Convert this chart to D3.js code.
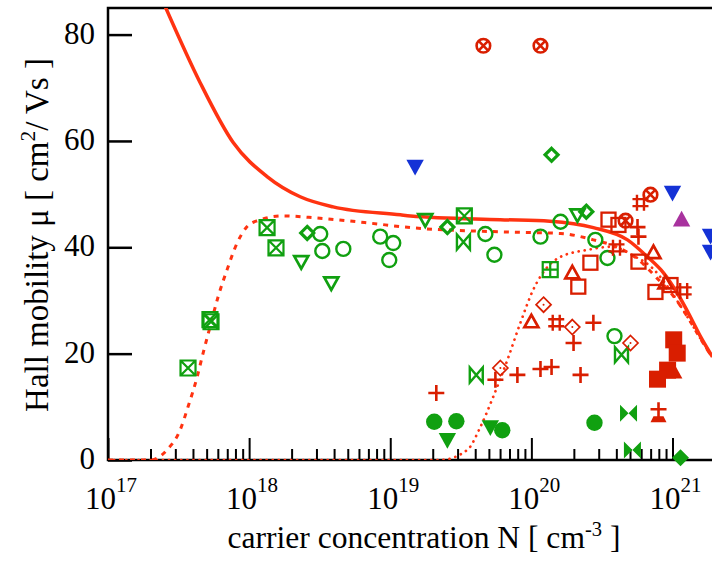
<!DOCTYPE html>
<html>
<head>
<meta charset="utf-8">
<script src="https://cdn.jsdelivr.net/npm/d3@7"></script>
<style>
  html, body { margin: 0; padding: 0; background: #fff; }
  svg text { font-family: "Liberation Serif", "Times New Roman", serif; fill: #000; }
</style>
</head>
<body>
<div id="chart"></div>
<script>
// axis ticks
const yTicks = [0, 20, 40, 60, 80];
const xDecades = [1e17, 1e18, 1e19, 1e20, 1e21];
const xDecadeExp = ['17', '18', '19', '20', '21'];

// model curves
const solidN = [2.54e17, 4.49e17, 7.71e17, 1.34e18, 2.30e18, 3.94e18, 1.18e19, 1.39e19, 6.03e19, 1.35e20, 2.75e20, 4.80e20, 6.65e20, 8.63e20, 1.08e21, 1.34e21, 1.58e21, 1.92e21];
const solidMu = [85.3, 71.0, 59.7, 53.3, 49.5, 47.6, 46.1, 45.9, 45.2, 44.9, 43.7, 41.4, 38.2, 35.2, 31.4, 26.9, 23.2, 19.4];

const dashN = [1e17, 2.0e17, 2.62e17, 3.24e17, 3.69e17, 4.28e17, 4.72e17, 5.28e17, 6.03e17, 6.98e17, 8.22e17, 9.68e17, 1.14e18, 1.74e18, 3.03e18, 6.87e18, 1.39e19, 6.03e19, 1.61e20, 2.75e20, 4.01e20, 5.65e20, 7.76e20, 1.03e21, 1.30e21, 1.58e21, 1.92e21];
const dashMu = [0, 0, 1.9, 5.6, 10.0, 15.6, 20.1, 25.0, 30.7, 35.8, 40.8, 43.9, 45.0, 45.9, 45.5, 44.6, 43.7, 42.9, 42.6, 41.4, 40.1, 37.8, 34.2, 30.6, 26.6, 22.8, 19.2];

const dotN = [1e17, 2.26e19, 3.52e19, 4.35e19, 5.37e19, 6.76e19, 8.36e19, 1.03e20, 1.30e20, 1.61e20, 2.49e20, 3.65e20, 5.47e20, 7.07e20, 8.91e20, 1.10e21, 1.34e21, 1.58e21, 1.92e21];
const dotMu = [0, 0, 1.9, 6.2, 11.9, 18.8, 25.8, 32.0, 36.3, 38.2, 39.5, 40.1, 38.2, 36.3, 33.2, 29.6, 26.0, 22.8, 19.2];

// measured points, one pair of arrays per marker kind
const gBoxXN = [3.69e17, 5.28e17, 5.37e17, 1.34e18, 1.55e18, 3.35e19];
const gBoxXMu = [17.3, 26.4, 26.0, 43.7, 39.9, 45.9];
const gDiamondN = [2.58e18, 2.54e19, 1.39e20, 2.45e20];
const gDiamondMu = [42.7, 43.8, 57.4, 46.7];
const gCircleN = [3.19e18, 3.30e18, 4.65e18, 8.49e18, 1.05e19, 9.84e18, 4.72e19, 5.47e19, 1.16e20, 1.61e20, 2.84e20, 3.46e20, 3.88e20];
const gCircleMu = [42.5, 39.3, 39.7, 42.0, 40.8, 37.6, 42.5, 38.6, 42.0, 44.8, 41.4, 38.0, 23.3];
const gTriDownN = [2.34e18, 3.82e18, 1.77e19, 2.12e20];
const gTriDownMu = [37.3, 33.3, 45.2, 46.1];
const gBowtieN = [3.30e19, 4.07e19, 4.35e20];
const gBowtieMu = [41.0, 16.0, 19.8];
const gBowtieFillN = [4.88e20, 5.20e20];
const gBowtieFillMu = [8.8, 1.9];
const gCircleFillN = [2.05e19, 2.94e19, 6.22e19, 2.80e20];
const gCircleFillMu = [7.2, 7.3, 5.6, 7.0];
const gTriDownFillN = [2.54e19, 5.12e19];
const gTriDownFillMu = [3.8, 6.2];
const gDiamondFillN = [1.14e21];
const gDiamondFillMu = [0.4];
const gBoxPlusN = [1.36e20];
const gBoxPlusMu = [35.8];

const rCircleXN = [4.57e19, 1.16e20, 4.65e20, 6.98e20];
const rCircleXMu = [77.9, 77.9, 45.0, 49.9];
const rSquareN = [3.52e20, 4.14e20, 2.62e20, 2.15e20, 5.74e20, 7.57e20, 9.68e20];
const rSquareMu = [45.2, 44.2, 37.1, 32.6, 37.3, 31.6, 32.9];
const rTriUpN = [1.0e20, 1.95e20, 7.33e20, 8.91e20];
const rTriUpMu = [26.0, 35.2, 39.0, 33.3];
const rPlusN = [2.12e19, 5.56e19, 7.96e19, 1.16e20, 1.39e20, 2.23e20, 1.99e20, 2.75e20, 5.65e20, 5.74e20];
const rPlusMu = [12.6, 15.1, 16.0, 17.1, 17.5, 16.0, 22.0, 25.8, 43.8, 42.0];
const rHashN = [1.50e20, 4.01e20, 1.20e21, 5.93e20];
const rHashMu = [25.8, 39.9, 31.8, 48.4];
const rDiamondDotN = [1.22e20, 1.95e20, 6.03e19, 5.04e20];
const rDiamondDotMu = [29.2, 25.0, 17.3, 22.0];
const rSquareFillN = [1.02e21, 1.08e21, 9.23e20, 7.83e20];
const rSquareFillMu = [22.6, 20.1, 16.9, 15.2];
const rTriUpFillN = [1.02e21];
const rTriUpFillMu = [16.6];
const rPlusBarN = [7.96e20];
const rPlusBarMu = [8.8];

const bTriDownFillN = [1.50e19, 1.0e21, 1.86e21, 1.86e21];
const bTriDownFillMu = [55.2, 50.3, 42.2, 39.2];
const pTriUpFillN = [1.16e21];
const pTriUpFillMu = [45.2];

const green = '#10a010';
const red = '#d91e00';
const curveRed = '#ff3311';
const blue = '#1432d6';
const purple = '#a8329e';

const W = 712, H = 563;
const pLeft = 108, pRight = 712, pTop = 8, pBottom = 460;

const svg = d3.select('#chart').append('svg')
    .attr('width', W)
    .attr('height', H);

const x = d3.scaleLog().domain([1e17, 1.905e21]).range([pLeft, pRight]);
const y = d3.scaleLinear().domain([0, 85]).range([pBottom, pTop]);

svg.append('defs').append('clipPath').attr('id', 'plotClip')
    .append('rect')
    .attr('x', pLeft).attr('y', pTop)
    .attr('width', pRight - pLeft).attr('height', pBottom - pTop);

// minor ticks 2..9 in each decade
const minorTicks = [];
xDecades.forEach(d => {
    for (let k = 2; k <= 9; k++) {
        if (d * k < 1.905e21) minorTicks.push(d * k);
    }
});

svg.append('g')
    .attr('transform', `translate(0,${pBottom})`)
    .call(d3.axisBottom(x).tickValues(minorTicks).tickSize(-11).tickFormat(''))
    .call(g => g.select('.domain').remove())
    .call(g => g.selectAll('line').attr('stroke', '#000').attr('stroke-width', 2));

svg.append('g')
    .attr('transform', `translate(0,${pBottom})`)
    .call(d3.axisBottom(x).tickValues(xDecades).tickSize(-22).tickFormat(''))
    .call(g => g.select('.domain').remove())
    .call(g => g.selectAll('line').attr('stroke', '#000').attr('stroke-width', 2));

svg.append('g')
    .attr('transform', `translate(${pLeft},0)`)
    .call(d3.axisLeft(y).tickValues(yTicks).tickSize(-24).tickPadding(13).tickFormat(d3.format('d')))
    .call(g => g.select('.domain').remove())
    .call(g => g.selectAll('line').attr('stroke', '#000').attr('stroke-width', 2.5))
    .call(g => g.selectAll('text')
        .attr('font-size', 31)
        .attr('dy', '0.28em')
        .attr('fill', '#000'));

// frame: left, top, bottom (right side runs off the page)
svg.append('path')
    .attr('d', `M${pRight},${pTop}H${pLeft}V${pBottom}H${pRight}`)
    .attr('fill', 'none')
    .attr('stroke', '#000')
    .attr('stroke-width', 2.5);

// decade labels 10^n
const xLab = svg.append('g');
xDecades.forEach((d, i) => {
    const t = xLab.append('text')
        .attr('x', x(d) + 3)
        .attr('y', 509)
        .attr('text-anchor', 'middle')
        .attr('font-size', 31);
    t.append('tspan').text('10');
    t.append('tspan').attr('font-size', 21).attr('dy', -17).text(xDecadeExp[i]);
});

// axis titles, sized to the width they take in the picture
function fitText(sel, target) {
    const w = sel.node().getBBox().width;
    sel.attr('font-size', 30 * target / w);
}

const xt = svg.append('text')
    .attr('x', 424)
    .attr('y', 548)
    .attr('text-anchor', 'middle')
    .attr('font-size', 30);
xt.append('tspan').text('carrier concentration N [ cm');
xt.append('tspan').attr('font-size', '0.65em').attr('dy', '-0.6em').text('-3');
xt.append('tspan').attr('dy', '0.39em').text(' ]');
fitText(xt, 393);

const yt = svg.append('text')
    .attr('transform', 'translate(48,235) rotate(-90)')
    .attr('text-anchor', 'middle')
    .attr('font-size', 30);
yt.append('tspan').text('Hall mobility μ [ cm');
yt.append('tspan').attr('font-size', '0.65em').attr('dy', '-0.6em').text('2');
yt.append('tspan').attr('dy', '0.39em').text('/ Vs ]');
fitText(yt, 354);

// curves
const line = d3.line()
    .x(d => x(d[0]))
    .y(d => y(d[1]))
    .curve(d3.curveMonotoneX);

const plot = svg.append('g').attr('clip-path', 'url(#plotClip)');

plot.append('path')
    .attr('d', line(dotN.map((n, i) => [n, dotMu[i]])))
    .attr('fill', 'none')
    .attr('stroke', curveRed)
    .attr('stroke-width', 2.7)
    .attr('stroke-linecap', 'round')
    .attr('stroke-dasharray', '0.1 6');

plot.append('path')
    .attr('d', line(dashN.map((n, i) => [n, dashMu[i]])))
    .attr('fill', 'none')
    .attr('stroke', curveRed)
    .attr('stroke-width', 3)
    .attr('stroke-dasharray', '5 6');

plot.append('path')
    .attr('d', line(solidN.map((n, i) => [n, solidMu[i]])))
    .attr('fill', 'none')
    .attr('stroke', curveRed)
    .attr('stroke-width', 3.5);

// marker shapes, centred on 0,0
const shapes = {
    circle: (g, c) => g.append('circle').attr('r', 7).attr('fill', 'none').attr('stroke', c).attr('stroke-width', 2.4),
    circleFill: (g, c) => g.append('circle').attr('r', 8.2).attr('fill', c),
    circleX: (g, c) => {
        g.append('circle').attr('r', 6.8).attr('fill', 'none').attr('stroke', c).attr('stroke-width', 2.6);
        g.append('path').attr('d', 'M-4.3,-4.3L4.3,4.3M4.3,-4.3L-4.3,4.3').attr('stroke', c).attr('stroke-width', 2.6);
    },
    boxX: (g, c) => g.append('path').attr('d', 'M-7.5,-7.5H7.5V7.5H-7.5ZM-7.5,-7.5L7.5,7.5M7.5,-7.5L-7.5,7.5')
        .attr('fill', 'none').attr('stroke', c).attr('stroke-width', 2.2),
    boxPlus: (g, c) => g.append('path').attr('d', 'M-7.5,-7.5H7.5V7.5H-7.5ZM0,-7.5V7.5M-7.5,0H7.5')
        .attr('fill', 'none').attr('stroke', c).attr('stroke-width', 2.2),
    square: (g, c) => g.append('rect').attr('x', -7).attr('y', -7).attr('width', 14).attr('height', 14)
        .attr('fill', 'none').attr('stroke', c).attr('stroke-width', 2.3),
    squareFill: (g, c) => g.append('rect').attr('x', -8.5).attr('y', -8.5).attr('width', 17).attr('height', 17).attr('fill', c),
    diamond: (g, c) => g.append('path').attr('d', 'M0,-6.5L6.5,0L0,6.5L-6.5,0Z')
        .attr('fill', 'none').attr('stroke', c).attr('stroke-width', 3.2),
    diamondFill: (g, c) => g.append('path').attr('d', 'M0,-8.5L8.5,0L0,8.5L-8.5,0Z').attr('fill', c),
    diamondDot: (g, c) => {
        g.append('path').attr('d', 'M0,-7.5L7.5,0L0,7.5L-7.5,0Z').attr('fill', 'none').attr('stroke', c).attr('stroke-width', 1.7);
        g.append('circle').attr('r', 1).attr('fill', c);
    },
    triDown: (g, c) => g.append('path').attr('d', 'M-7,-5.5H7L0,7Z')
        .attr('fill', 'none').attr('stroke', c).attr('stroke-width', 2.7),
    triDownFill: (g, c) => g.append('path').attr('d', 'M-8.7,-6.8H8.7L0,9Z').attr('fill', c),
    triUp: (g, c) => g.append('path').attr('d', 'M-7,5.5H7L0,-7Z')
        .attr('fill', 'none').attr('stroke', c).attr('stroke-width', 2.7),
    triUpFill: (g, c) => g.append('path').attr('d', 'M-8.7,6.8H8.7L0,-9Z').attr('fill', c),
    bowtie: (g, c) => g.append('path').attr('d', 'M-6.5,-7.5V7.5L6.5,-7.5V7.5Z')
        .attr('fill', 'none').attr('stroke', c).attr('stroke-width', 2.4),
    bowtieFill: (g, c) => g.append('path').attr('d', 'M-8.5,-8.5V8.5L0,0ZM8.5,-8.5V8.5L0,0Z').attr('fill', c),
    plus: (g, c) => g.append('path').attr('d', 'M-8,0H8M0,-8V8').attr('stroke', c).attr('stroke-width', 2.6),
    hash: (g, c) => g.append('path').attr('d', 'M-3.5,-8V8M3.5,-8V8M-8,-3.5H8M-8,3.5H8').attr('stroke', c).attr('stroke-width', 2.4),
    plusBar: (g, c) => {
        g.append('path').attr('d', 'M-8,-4H8M0,-11V4').attr('stroke', c).attr('stroke-width', 2.6);
        g.append('path').attr('d', 'M-8,9H8L5,3H-5Z').attr('fill', c);
    }
};

const layers = [
    [gCircleN, gCircleMu, 'circle', green],
    [gBoxXN, gBoxXMu, 'boxX', green],
    [gBoxPlusN, gBoxPlusMu, 'boxPlus', green],
    [gDiamondN, gDiamondMu, 'diamond', green],
    [gTriDownN, gTriDownMu, 'triDown', green],
    [gBowtieN, gBowtieMu, 'bowtie', green],
    [gBowtieFillN, gBowtieFillMu, 'bowtieFill', green],
    [gCircleFillN, gCircleFillMu, 'circleFill', green],
    [gTriDownFillN, gTriDownFillMu, 'triDownFill', green],
    [gDiamondFillN, gDiamondFillMu, 'diamondFill', green],
    [rSquareN, rSquareMu, 'square', red],
    [rTriUpN, rTriUpMu, 'triUp', red],
    [rPlusN, rPlusMu, 'plus', red],
    [rHashN, rHashMu, 'hash', red],
    [rDiamondDotN, rDiamondDotMu, 'diamondDot', red],
    [rCircleXN, rCircleXMu, 'circleX', red],
    [rSquareFillN, rSquareFillMu, 'squareFill', red],
    [rTriUpFillN, rTriUpFillMu, 'triUpFill', red],
    [rPlusBarN, rPlusBarMu, 'plusBar', red],
    [bTriDownFillN, bTriDownFillMu, 'triDownFill', blue],
    [pTriUpFillN, pTriUpFillMu, 'triUpFill', purple]
];

const marks = svg.append('g');
layers.forEach(([ns, mus, kind, color]) => {
    marks.selectAll(null)
        .data(ns.map((n, i) => [n, mus[i]]))
        .enter()
        .append('g')
        .attr('transform', d => `translate(${x(d[0])},${y(d[1])})`)
        .each(function () { shapes[kind](d3.select(this), color); });
});
</script>
</body>
</html>
